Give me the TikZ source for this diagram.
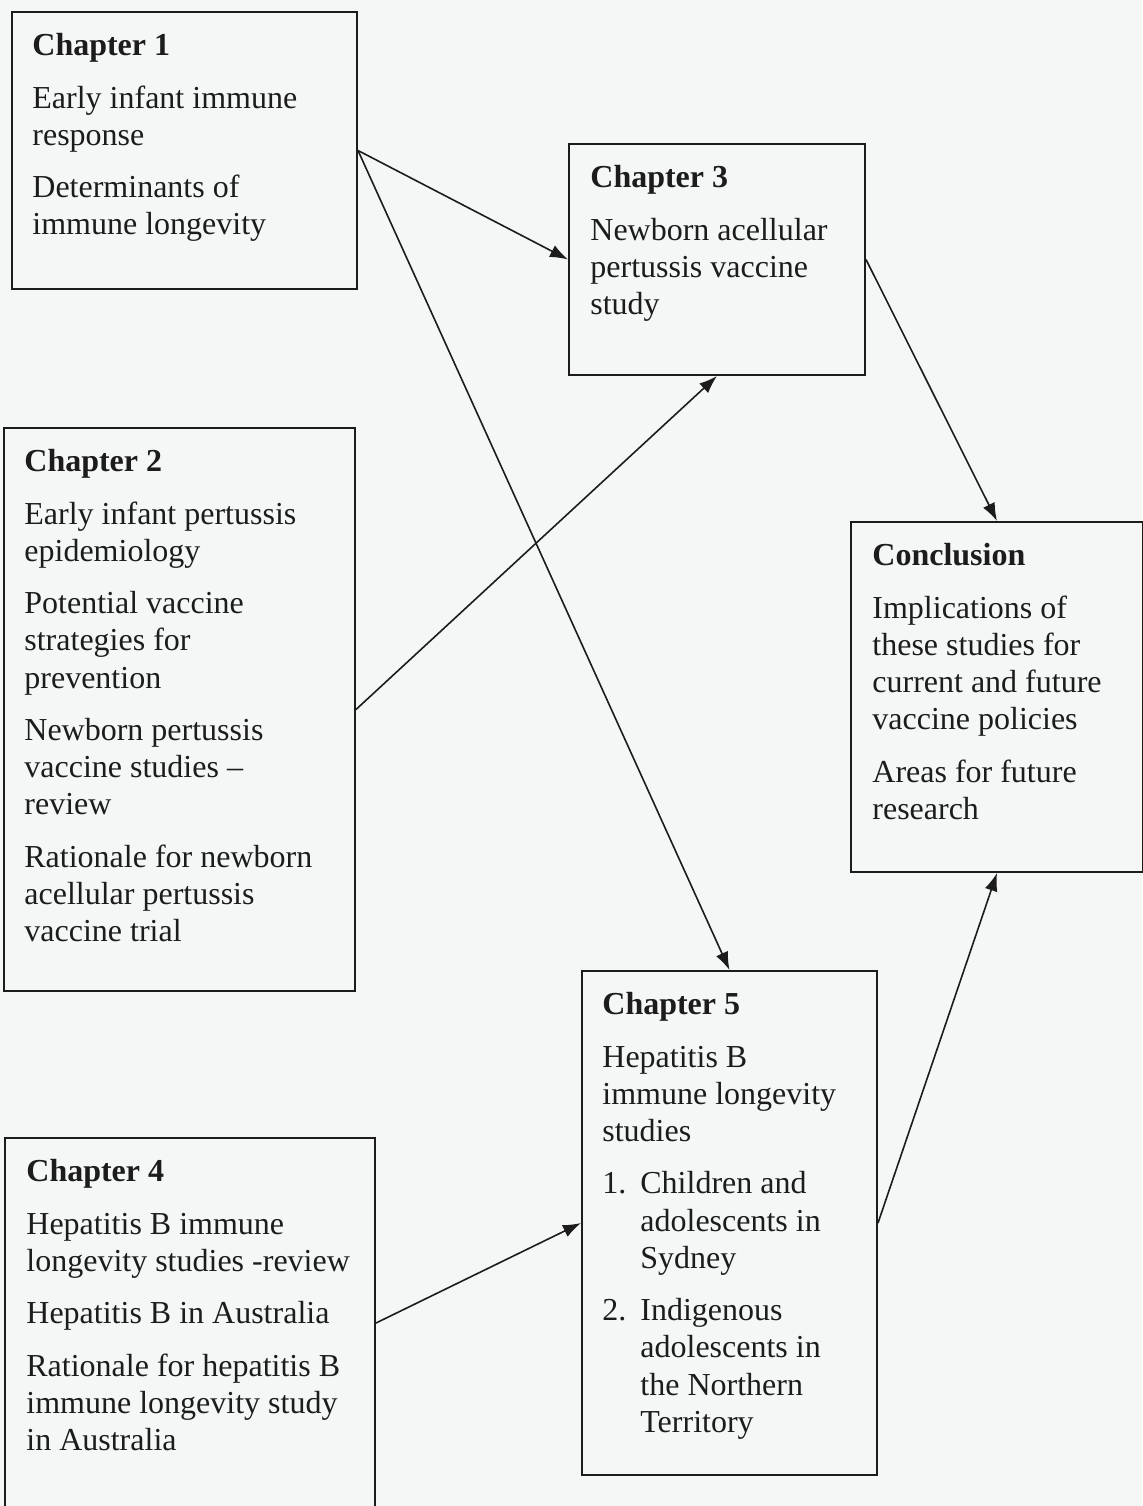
\documentclass[tikz,border=0pt]{standalone}
\usepackage{fontspec}
\setmainfont{Liberation Serif}
\usetikzlibrary{arrows.meta,positioning}
\definecolor{ink}{HTML}{1C1C1C}
\definecolor{paper}{HTML}{F5F7F7}
\newcommand{\gap}{\\[7.6pt]}
\newcommand{\itm}[1]{\makebox[19pt][l]{#1}}

\begin{document}
\begin{tikzpicture}[x=0.5pt,y=-0.5pt,
 b/.style={draw=ink,line width=1pt,inner sep=0pt},
 t/.style={inner sep=0pt,align=left,text=ink,
 font=\fontsize{16pt}{18.6pt}\selectfont},
 a/.style={-{Latex[length=9pt,width=6.5pt]},line width=0.8pt,draw=ink}]
 \useasboundingbox[fill=paper] (0,0) rectangle (1142,1506);
 % boxes
 \node[b,minimum width=172.5pt,minimum height=138.5pt] (c1) at (184.5,150.5) {};
 \node[b,minimum width=148pt,minimum height=115.5pt] (c3) at (717,259.5) {};
 \node[b,minimum width=175.5pt,minimum height=281.5pt] (c2) at (179.5,709.5) {};
 \node[b,minimum width=146pt,minimum height=175pt] (cc) at (997,697) {};
 \node[b,minimum width=147.5pt,minimum height=252pt] (c5) at (729.5,1223) {};
 \node[b,minimum width=185pt,minimum height=185pt] (c4) at (190,1323) {};
 % texts
 \node[t,below right=11pt and 10.5pt of c1.north west] (t1) {\textbf{Chapter 1}\gap
 Early infant immune\\ response\gap Determinants of\\ immune longevity};
 \node[t,below right=11pt and 11pt of c3.north west] (t3) {\textbf{Chapter 3}\gap
 Newborn acellular\\ pertussis vaccine\\ study};
 \node[t,below right=11pt and 10.5pt of c2.north west] (t2) {\textbf{Chapter 2}\gap
 Early infant pertussis\\ epidemiology\gap Potential vaccine\\ strategies for\\ prevention\gap
 Newborn pertussis\\ vaccine studies --\\ review\gap Rationale for newborn\\ acellular pertussis\\ vaccine trial};
 \node[t,below right=11pt and 11pt of cc.north west] (tc) {\textbf{Conclusion}\gap
 Implications of\\ these studies for\\ current and future\\ vaccine policies\gap Areas for future\\ research};
 \node[t,below right=11pt and 10.5pt of c5.north west] (t5) {\textbf{Chapter 5}\gap
 Hepatitis B\\ immune longevity\\ studies\gap \itm{1.}Children and\\ \itm{}adolescents in\\ \itm{}Sydney\gap
 \itm{2.}Indigenous\\ \itm{}adolescents in\\ \itm{}the Northern\\ \itm{}Territory};
 \node[t,below right=11pt and 11pt of c4.north west] (t4) {\textbf{Chapter 4}\gap
 Hepatitis B immune\\ longevity studies -review\gap Hepatitis B in Australia\gap
 Rationale for hepatitis B\\ immune longevity study\\ in Australia};
 % links
 \draw[a] (c1.east)--(c3.west);
 \draw[a] (c1.east)--(c5.north);
 \draw[a] (c2.east)--(c3.south);
 \draw[a] (c3.east)--(cc.north);
 \draw[a] (c4.east)--(c5.west);
 \draw[a] (c5.east)--(cc.south);
\end{tikzpicture}
\end{document}
